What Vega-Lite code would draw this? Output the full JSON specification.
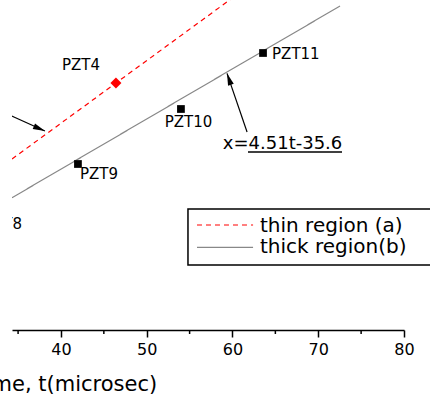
{
  "$schema": "https://vega.github.io/schema/vega-lite/v6.json",
  "width": 392,
  "height": 330,
  "autosize": {"type": "none"},
  "padding": {"left": 12, "top": 0, "right": 26, "bottom": 70},
  "background": "white",
  "config": {"view": {"stroke": null}, "font": "DejaVu Sans"},
  "datasets": {
    "lines": [
      {"series": "thin", "t": 34.29, "v": 153.9},
      {"series": "thin", "t": 60.5, "v": 301.7},
      {"series": "thick", "t": 34.29, "v": 119.05},
      {"series": "thick", "t": 72.54, "v": 291.6}
    ],
    "points": [
      {"name": "PZT4", "kind": "thin", "t": 46.41, "v": 222.3},
      {"name": "PZT9", "kind": "thick", "t": 41.98, "v": 149.4},
      {"name": "PZT10", "kind": "thick", "t": 53.99, "v": 198.9},
      {"name": "PZT11", "kind": "thick", "t": 63.56, "v": 249.3}
    ],
    "labels": [
      {"text": "PZT4", "t": 42.34, "v": 234},
      {"text": "PZT9", "t": 44.44, "v": 135.9},
      {"text": "PZT10", "t": 54.87, "v": 183},
      {"text": "PZT11", "t": 67.39, "v": 243.6},
      {"text": "PZT8", "t": 33.24, "v": 90.6}
    ],
    "minor": [
      {"t": 35, "v": 0, "v2": -3.6},
      {"t": 45, "v": 0, "v2": -3.6},
      {"t": 55, "v": 0, "v2": -3.6},
      {"t": 65, "v": 0, "v2": -3.6},
      {"t": 75, "v": 0, "v2": -3.6}
    ],
    "shafts": [
      {"t": 32.0, "v": 200.4, "t2": 38.13, "v2": 179.1},
      {"t": 61.70, "v": 178.2, "t2": 59.36, "v2": 231}
    ],
    "heads": [
      {"t": 38.13, "v": 179.1, "angle": 113},
      {"t": 59.36, "v": 231, "angle": -19}
    ],
    "equation": [
      {"text": "x=4.51t-35.6", "t": 65.84, "v": 162.9}
    ],
    "underline": [
      {"t": 61.81, "t2": 72.77, "v": 160.2}
    ],
    "legendbox": [
      {"t": 54.81, "t2": 87, "v": 108.9, "v2": 58.5}
    ],
    "legendlines": [
      {"series": "thin", "t": 55.86, "t2": 62.4, "v": 94.5},
      {"series": "thick", "t": 55.86, "t2": 62.4, "v": 74.4}
    ],
    "legendtext": [
      {"text": "thin region (a)", "t": 63.21, "v": 88.2},
      {"text": "thick region(b)", "t": 63.21, "v": 69.1}
    ]
  },
  "encoding": {
    "x": {
      "field": "t", "type": "quantitative",
      "scale": {"domain": [34.29, 80], "nice": false, "zero": false},
      "axis": {
        "values": [40, 50, 60, 70, 80],
        "title": "Time, t(microsec)",
        "grid": false,
        "domainColor": "black", "domainWidth": 1.5,
        "tickColor": "black", "tickWidth": 1.5, "tickSize": 7,
        "labelFont": "DejaVu Sans", "labelFontSize": 16, "labelColor": "black",
        "labelPadding": 4, "labelFlush": false, "labelOverlap": false,
        "titleFont": "DejaVu Sans", "titleFontSize": 21, "titleFontWeight": "normal",
        "titleColor": "black", "titleAlign": "left", "titleAnchor": "start",
        "titleX": -39, "titleY": 60, "titleBaseline": "alphabetic"
      }
    },
    "y": {"field": "v", "type": "quantitative", "scale": {"domain": [0, 297], "nice": false, "zero": false}, "axis": null}
  },
  "layer": [
    {
      "data": {"name": "lines"},
      "mark": {"type": "line", "clip": true, "strokeWidth": 1.2},
      "encoding": {
        "color": {"field": "series", "type": "nominal", "scale": {"domain": ["thin", "thick"], "range": ["#ff0000", "#888888"]}, "legend": null},
        "strokeDash": {"field": "series", "type": "nominal", "scale": {"domain": ["thin", "thick"], "range": [[5, 4], [1, 0]]}, "legend": null}
      }
    },
    {
      "data": {"name": "minor"},
      "mark": {"type": "rule", "color": "black", "strokeWidth": 1.5},
      "encoding": {
        "y2": {"field": "v2"}
      }
    },
    {
      "data": {"name": "points"},
      "mark": {"type": "point", "filled": true, "opacity": 1},
      "encoding": {
        "shape": {"field": "kind", "type": "nominal", "scale": {"domain": ["thin", "thick"], "range": ["diamond", "square"]}, "legend": null},
        "fill": {"field": "kind", "type": "nominal", "scale": {"domain": ["thin", "thick"], "range": ["#ff0000", "#000000"]}, "legend": null},
        "size": {"field": "kind", "type": "nominal", "scale": {"domain": ["thin", "thick"], "range": [120, 60]}, "legend": null}
      }
    },
    {
      "data": {"name": "labels"},
      "mark": {"type": "text", "clip": true, "font": "DejaVu Sans", "fontSize": 15, "color": "black", "align": "center", "baseline": "alphabetic"},
      "encoding": {
        "text": {"field": "text"}
      }
    },
    {
      "data": {"name": "shafts"},
      "mark": {"type": "rule", "clip": true, "color": "black", "strokeWidth": 1.2},
      "encoding": {
        "x2": {"field": "t2"},
        "y2": {"field": "v2"}
      }
    },
    {
      "data": {"name": "heads"},
      "mark": {"type": "point", "filled": true, "opacity": 1, "color": "black", "shape": "M0,0L0.5,2L-0.5,2Z", "size": 144},
      "encoding": {
        "angle": {"field": "angle", "type": "quantitative", "scale": null}
      }
    },
    {
      "data": {"name": "equation"},
      "mark": {"type": "text", "font": "DejaVu Sans", "fontSize": 18, "color": "black", "align": "center", "baseline": "alphabetic"},
      "encoding": {
        "text": {"field": "text"}
      }
    },
    {
      "data": {"name": "underline"},
      "mark": {"type": "rule", "color": "black", "strokeWidth": 1.3},
      "encoding": {
        "x2": {"field": "t2"}
      }
    },
    {
      "data": {"name": "legendbox"},
      "mark": {"type": "rect", "fill": "white", "stroke": "black", "strokeWidth": 1.5},
      "encoding": {
        "x2": {"field": "t2"},
        "y2": {"field": "v2"}
      }
    },
    {
      "data": {"name": "legendlines"},
      "mark": {"type": "rule", "strokeWidth": 1.2},
      "encoding": {
        "x2": {"field": "t2"},
        "color": {"field": "series", "type": "nominal", "scale": {"domain": ["thin", "thick"], "range": ["#ff0000", "#888888"]}, "legend": null},
        "strokeDash": {"field": "series", "type": "nominal", "scale": {"domain": ["thin", "thick"], "range": [[5, 4], [1, 0]]}, "legend": null}
      }
    },
    {
      "data": {"name": "legendtext"},
      "mark": {"type": "text", "font": "DejaVu Sans", "fontSize": 20, "color": "black", "align": "left", "baseline": "alphabetic"},
      "encoding": {
        "text": {"field": "text"}
      }
    }
  ]
}
